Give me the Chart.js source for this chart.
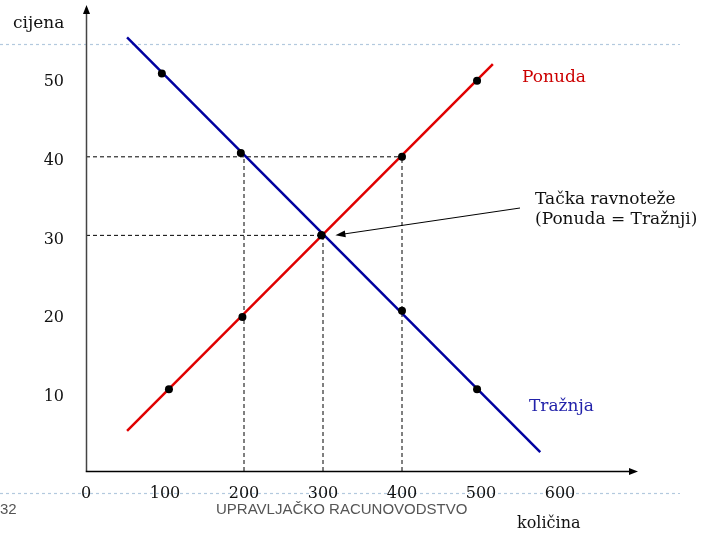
<!DOCTYPE html>
<html>
<head>
<meta charset="utf-8">
<script src="https://cdn.jsdelivr.net/npm/chart.js@4"></script>
<style>
  html, body { margin: 0; padding: 0; background: #fff; }
  canvas { display: block; }
</style>
</head>
<body>
<canvas id="marketChart" width="720" height="533"></canvas>
<script>
// tick labels
const xTicks = [0, 100, 200, 300, 400, 500, 600];
const yTicks = [10, 20, 30, 40, 50];

// marked points
const supplyX = [105, 198, 298, 400, 495];
const supplyY = [10.4, 19.6, 30, 40, 49.7];
const demandX = [96, 196, 298, 400, 495];
const demandY = [50.6, 40.5, 30, 20.4, 10.4];

// end points of the two straight lines
const supplyLineX = [52, 515];
const supplyLineY = [5.1, 51.8];
const demandLineX = [52, 575];
const demandLineY = [55.2, 2.4];

// dashed helper lines
const guideLevels = [40, 30];     // horizontal, from 0 to guideLevelEnd
const guideLevelEnd = [400, 300];
const guideQty = [200, 300, 400]; // vertical, from 0 up to guideQtyTop
const guideQtyTop = [40, 30, 40];

const SERIF = '"DejaVu Serif", serif';

const toPts = (xs, ys) => xs.map((x, i) => ({ x: x, y: ys[i] }));

const datasets = [
    {
        label: 'Ponuda tačke',
        data: toPts(supplyX, supplyY),
        showLine: false,
        pointRadius: 4,
        pointBackgroundColor: '#000',
        pointBorderWidth: 0,
        order: 0
    },
    {
        label: 'Tražnja tačke',
        data: toPts(demandX, demandY),
        showLine: false,
        pointRadius: 4,
        pointBackgroundColor: '#000',
        pointBorderWidth: 0,
        order: 0
    },
    {
        label: 'Ponuda',
        data: toPts(supplyLineX, supplyLineY),
        showLine: true,
        borderColor: '#e00000',
        borderWidth: 2.5,
        pointRadius: 0,
        clip: false,
        order: 1
    },
    {
        label: 'Tražnja',
        data: toPts(demandLineX, demandLineY),
        showLine: true,
        borderColor: '#0000a0',
        borderWidth: 2.5,
        pointRadius: 0,
        clip: false,
        order: 1
    }
];

guideLevels.forEach((lvl, i) => {
    datasets.push({
        label: 'h' + i,
        data: [{ x: 0, y: lvl }, { x: guideLevelEnd[i], y: lvl }],
        showLine: true,
        borderColor: '#000',
        borderWidth: 1,
        borderDash: [4, 3],
        pointRadius: 0,
        order: 2
    });
});
guideQty.forEach((q, i) => {
    datasets.push({
        label: 'v' + i,
        data: [{ x: q, y: 0 }, { x: q, y: guideQtyTop[i] }],
        showLine: true,
        borderColor: '#000',
        borderWidth: 1,
        borderDash: [4, 3],
        pointRadius: 0,
        order: 2
    });
});

function arrowHead(ctx, x, y, angle, len, half) {
    ctx.beginPath();
    ctx.moveTo(x, y);
    ctx.lineTo(x - len * Math.cos(angle) + half * Math.sin(angle), y - len * Math.sin(angle) - half * Math.cos(angle));
    ctx.lineTo(x - len * Math.cos(angle) - half * Math.sin(angle), y - len * Math.sin(angle) + half * Math.cos(angle));
    ctx.closePath();
    ctx.fill();
}

const slideDecor = {
    id: 'slideDecor',
    beforeDraw(chart) {
        const ctx = chart.ctx;
        ctx.save();
        ctx.strokeStyle = '#b3c9de';
        ctx.lineWidth = 1.2;
        ctx.setLineDash([3, 3]);
        [44, 493].forEach(y => {
            ctx.beginPath();
            ctx.moveTo(0, y + 0.5);
            ctx.lineTo(680, y + 0.5);
            ctx.stroke();
        });
        ctx.restore();
    },
    afterDraw(chart) {
        const ctx = chart.ctx;
        const area = chart.chartArea;
        const xs = chart.scales.x;
        const ys = chart.scales.y;
        const ox = Math.round(area.left) + 0.5;
        const oy = Math.round(ys.getPixelForValue(0)) + 0.5;
        ctx.save();
        ctx.setLineDash([]);

        // axes with arrow heads
        ctx.strokeStyle = '#444';
        ctx.fillStyle = '#000';
        ctx.lineWidth = 1.5;
        ctx.beginPath();
        ctx.moveTo(ox, oy);
        ctx.lineTo(ox, 12);
        ctx.stroke();
        arrowHead(ctx, ox, 5, -Math.PI / 2, 9, 3.5);
        ctx.strokeStyle = '#000';
        ctx.beginPath();
        ctx.moveTo(ox - 0.75, oy);
        ctx.lineTo(630, oy);
        ctx.stroke();
        arrowHead(ctx, 638, oy, 0, 9, 3.5);

        // equilibrium pointer
        const ex = xs.getPixelForValue(supplyX[2]) + 14;
        const ey = ys.getPixelForValue(supplyY[2]);
        ctx.lineWidth = 1;
        ctx.beginPath();
        ctx.moveTo(520, 208);
        ctx.lineTo(ex + 6, ey - 1);
        ctx.stroke();
        arrowHead(ctx, ex, ey, Math.atan2(ey - 208, ex - 520), 10, 3.5);

        // texts
        ctx.textBaseline = 'alphabetic';
        ctx.textAlign = 'left';
        ctx.font = '17px ' + SERIF;
        ctx.fillStyle = '#111';
        ctx.fillText('cijena', 13, 28);
        ctx.font = '16px ' + SERIF;
        ctx.fillText('količina', 517, 528);
        ctx.font = '17px ' + SERIF;
        ctx.fillText('Tačka ravnoteže', 535, 204);
        ctx.fillText('(Ponuda = Tražnji)', 535, 224);
        ctx.fillStyle = '#cc0000';
        ctx.fillText('Ponuda', 522, 82);
        ctx.fillStyle = '#2222aa';
        ctx.fillText('Tražnja', 529, 411);

        // slide footer
        ctx.fillStyle = '#555';
        ctx.font = '15px "Liberation Sans", Arial, sans-serif';
        ctx.fillText('32', 0, 514);
        ctx.fillText('UPRAVLJAČKO RACUNOVODSTVO', 216, 514);
        ctx.restore();
    }
};

new Chart(document.getElementById('marketChart').getContext('2d'), {
    type: 'scatter',
    data: { datasets: datasets },
    options: {
        responsive: false,
        animation: false,
        events: [],
        layout: { padding: { top: 39, right: 160, bottom: 0, left: 0 } },
        plugins: {
            legend: { display: false },
            tooltip: { enabled: false }
        },
        scales: {
            x: {
                type: 'linear',
                min: 0,
                max: 600,
                grid: { display: false, drawTicks: false },
                border: { display: false },
                afterFit: scale => { scale.height = 62; },
                afterBuildTicks: scale => { scale.ticks = xTicks.map(v => ({ value: v })); },
                ticks: {
                    padding: 13,
                    color: '#111',
                    font: { family: SERIF, size: 16 }
                }
            },
            y: {
                type: 'linear',
                min: 0,
                max: 55,
                grid: { display: false, drawTicks: false },
                border: { display: false },
                afterFit: scale => { scale.width = 86; },
                afterBuildTicks: scale => { scale.ticks = yTicks.map(v => ({ value: v })); },
                ticks: {
                    padding: 22,
                    labelOffset: 4,
                    color: '#111',
                    font: { family: SERIF, size: 16 }
                }
            }
        }
    },
    plugins: [slideDecor]
});
</script>
</body>
</html>
